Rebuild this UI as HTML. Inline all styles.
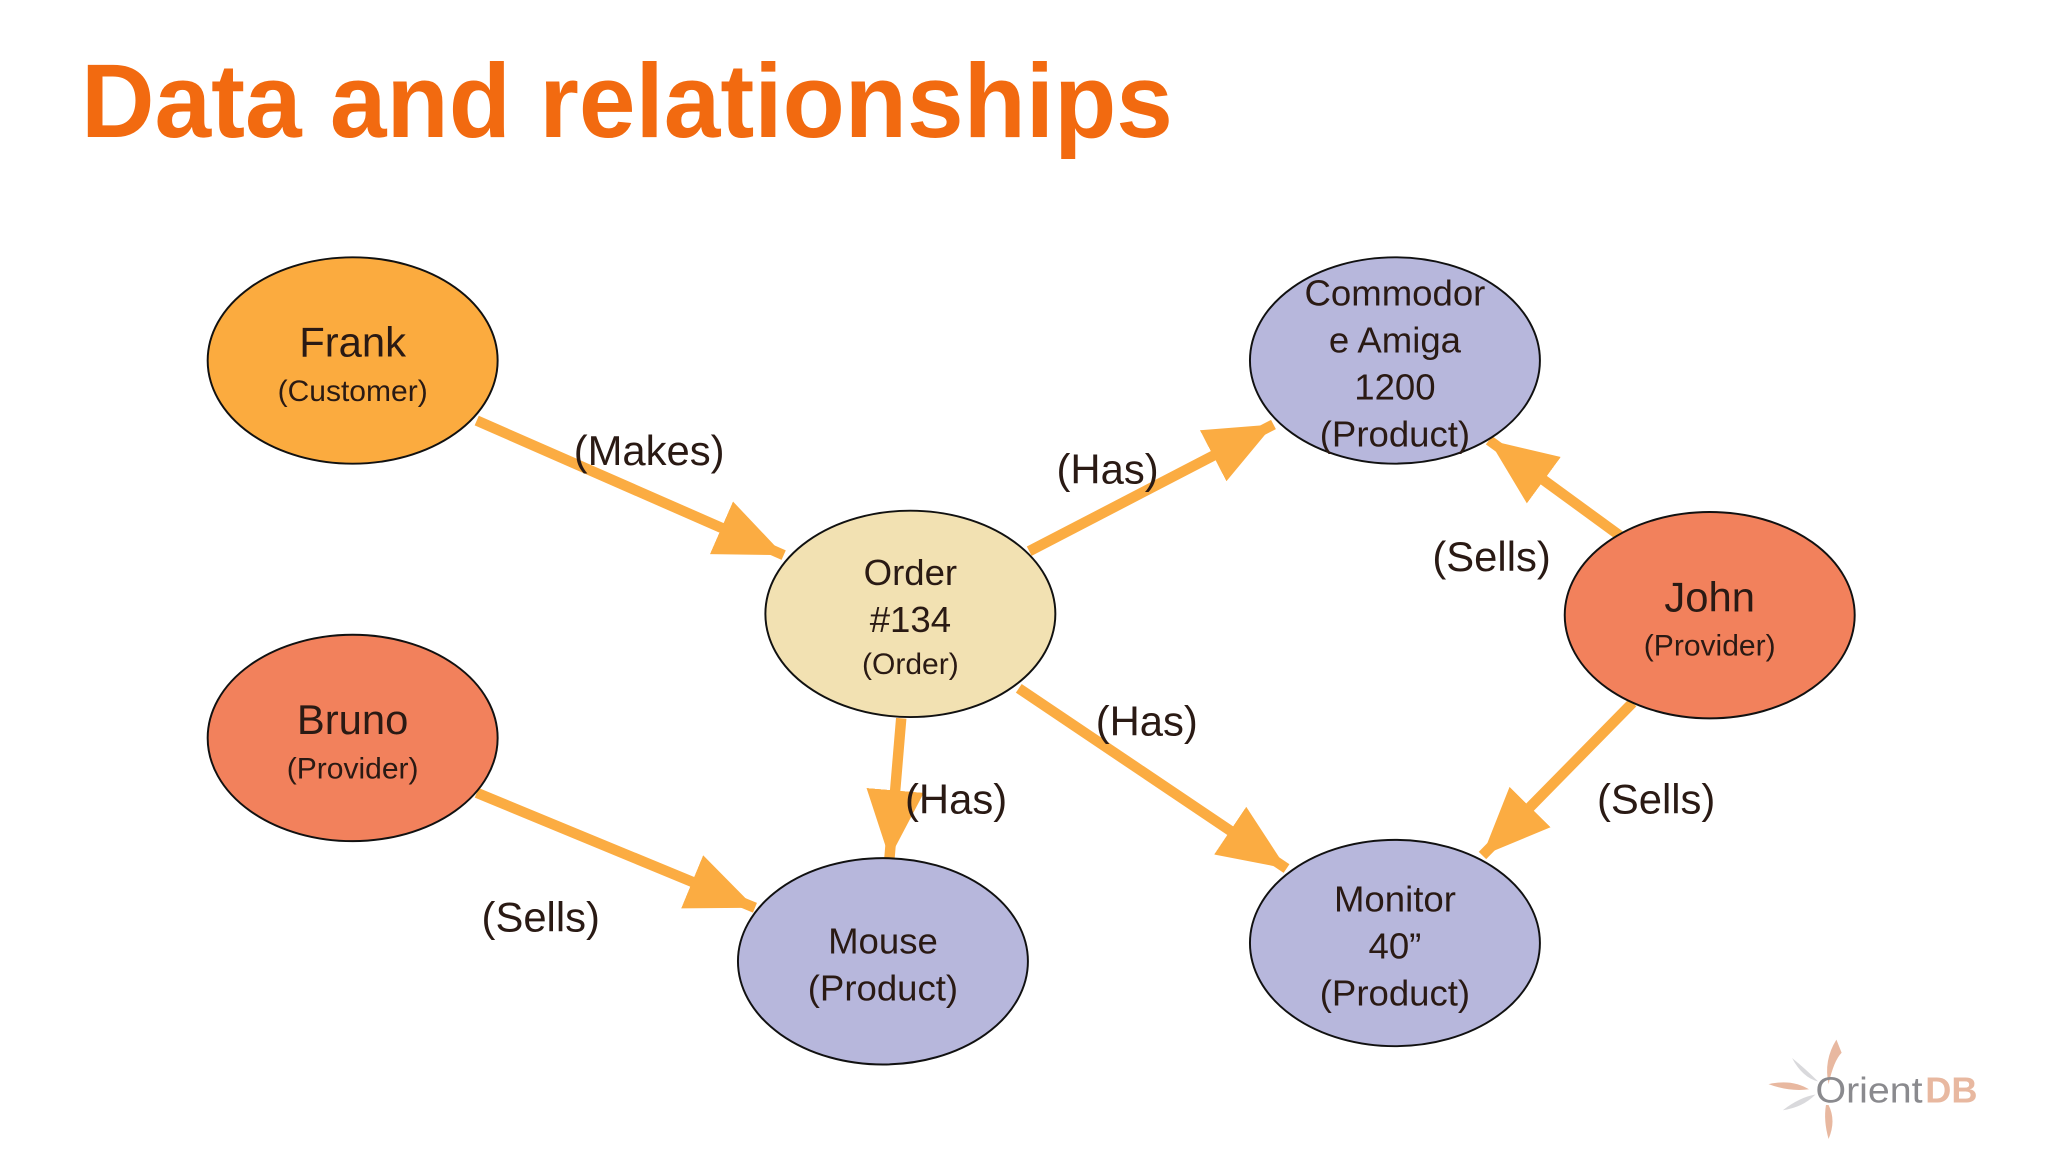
<!DOCTYPE html>
<html><head><meta charset="utf-8"><style>
html,body{margin:0;padding:0;background:#fff;}
svg{display:block}
text{font-family:"Liberation Sans","DejaVu Sans",sans-serif;fill:#2a1a14}
</style></head><body>
<svg width="2048" height="1152" viewBox="0 0 1568 882" preserveAspectRatio="none" xmlns="http://www.w3.org/2000/svg">
<defs>
<marker id="a" markerUnits="userSpaceOnUse" markerWidth="60" markerHeight="50" refX="52" refY="22" orient="auto">
<path d="M0,0 L52,22 L0,44 Z" fill="#fbac42"/>
</marker>
</defs>
<text x="62" y="105" style="font-size:80px;font-weight:bold;fill:#f26a10" textLength="836" lengthAdjust="spacingAndGlyphs">Data and relationships</text>
<g stroke="#fbac42" stroke-width="8" fill="none">
<line x1="365" y1="322" x2="600" y2="425" marker-end="url(#a)"/>
<line x1="788" y1="422" x2="975" y2="325" marker-end="url(#a)"/>
<line x1="1240" y1="410" x2="1140" y2="337" marker-end="url(#a)"/>
<line x1="690" y1="550" x2="681" y2="657" marker-end="url(#a)"/>
<line x1="780" y1="527" x2="985" y2="665" marker-end="url(#a)"/>
<line x1="1250" y1="538" x2="1135" y2="655" marker-end="url(#a)"/>
<line x1="365" y1="607" x2="578" y2="695" marker-end="url(#a)"/>
</g>
<g stroke="#111" stroke-width="1.5">
<ellipse cx="270" cy="276" rx="111" ry="79" fill="#fbab3f"/>
<ellipse cx="697" cy="470" rx="111" ry="79" fill="#f2e1b2"/>
<ellipse cx="1068" cy="276" rx="111" ry="79" fill="#b7b7dc"/>
<ellipse cx="1309" cy="471" rx="111" ry="79" fill="#f2815c"/>
<ellipse cx="270" cy="565" rx="111" ry="79" fill="#f2815c"/>
<ellipse cx="676" cy="736" rx="111" ry="79" fill="#b7b7dc"/>
<ellipse cx="1068" cy="722" rx="111" ry="79" fill="#b7b7dc"/>
</g>
<g text-anchor="middle">
<text x="270" y="273" font-size="32">Frank</text>
<text x="270" y="307" font-size="23">(Customer)</text>
<text x="697" y="448" font-size="28">Order</text>
<text x="697" y="484" font-size="28">#134</text>
<text x="697" y="516" font-size="23">(Order)</text>
<text x="1068" y="234" font-size="28">Commodor</text>
<text x="1068" y="270" font-size="28">e Amiga</text>
<text x="1068" y="306" font-size="28">1200</text>
<text x="1068" y="342" font-size="28">(Product)</text>
<text x="1309" y="468" font-size="32">John</text>
<text x="1309" y="502" font-size="23">(Provider)</text>
<text x="270" y="562" font-size="32">Bruno</text>
<text x="270" y="596" font-size="23">(Provider)</text>
<text x="676" y="730" font-size="28">Mouse</text>
<text x="676" y="766" font-size="28">(Product)</text>
<text x="1068" y="698" font-size="28">Monitor</text>
<text x="1068" y="734" font-size="28">40”</text>
<text x="1068" y="770" font-size="28">(Product)</text>
<text x="497" y="356" font-size="32">(Makes)</text>
<text x="848" y="370" font-size="32">(Has)</text>
<text x="1142" y="437" font-size="32">(Sells)</text>
<text x="878" y="563" font-size="32">(Has)</text>
<text x="732" y="623" font-size="32">(Has)</text>
<text x="1268" y="623" font-size="32">(Sells)</text>
<text x="414" y="713" font-size="32">(Sells)</text>
</g>
<g>
<path d="M1406,796 Q1396,812 1400,830 Q1404,812 1410,806 Z" fill="#e8b8a0"/>
<path d="M1372,810 Q1380,825 1392,828 Q1382,818 1372,810 Z" fill="#d9d9dc"/>
<path d="M1354,830 Q1372,826 1385,834 Q1370,836 1354,830 Z" fill="#e8b8a0"/>
<path d="M1365,850 Q1378,840 1390,838 Q1380,848 1365,850 Z" fill="#d9d9dc"/>
<path d="M1400,846 Q1406,858 1400,872 Q1396,858 1398,846 Z" fill="#e8b8a0"/>
<text x="1390" y="844" font-size="28" style="fill:#8a8a8e" textLength="82" lengthAdjust="spacingAndGlyphs">Orient</text>
<text x="1474" y="844" font-size="28" font-weight="bold" style="fill:#e8b8a0" textLength="40" lengthAdjust="spacingAndGlyphs">DB</text>
</g>
</svg>
</body></html>
